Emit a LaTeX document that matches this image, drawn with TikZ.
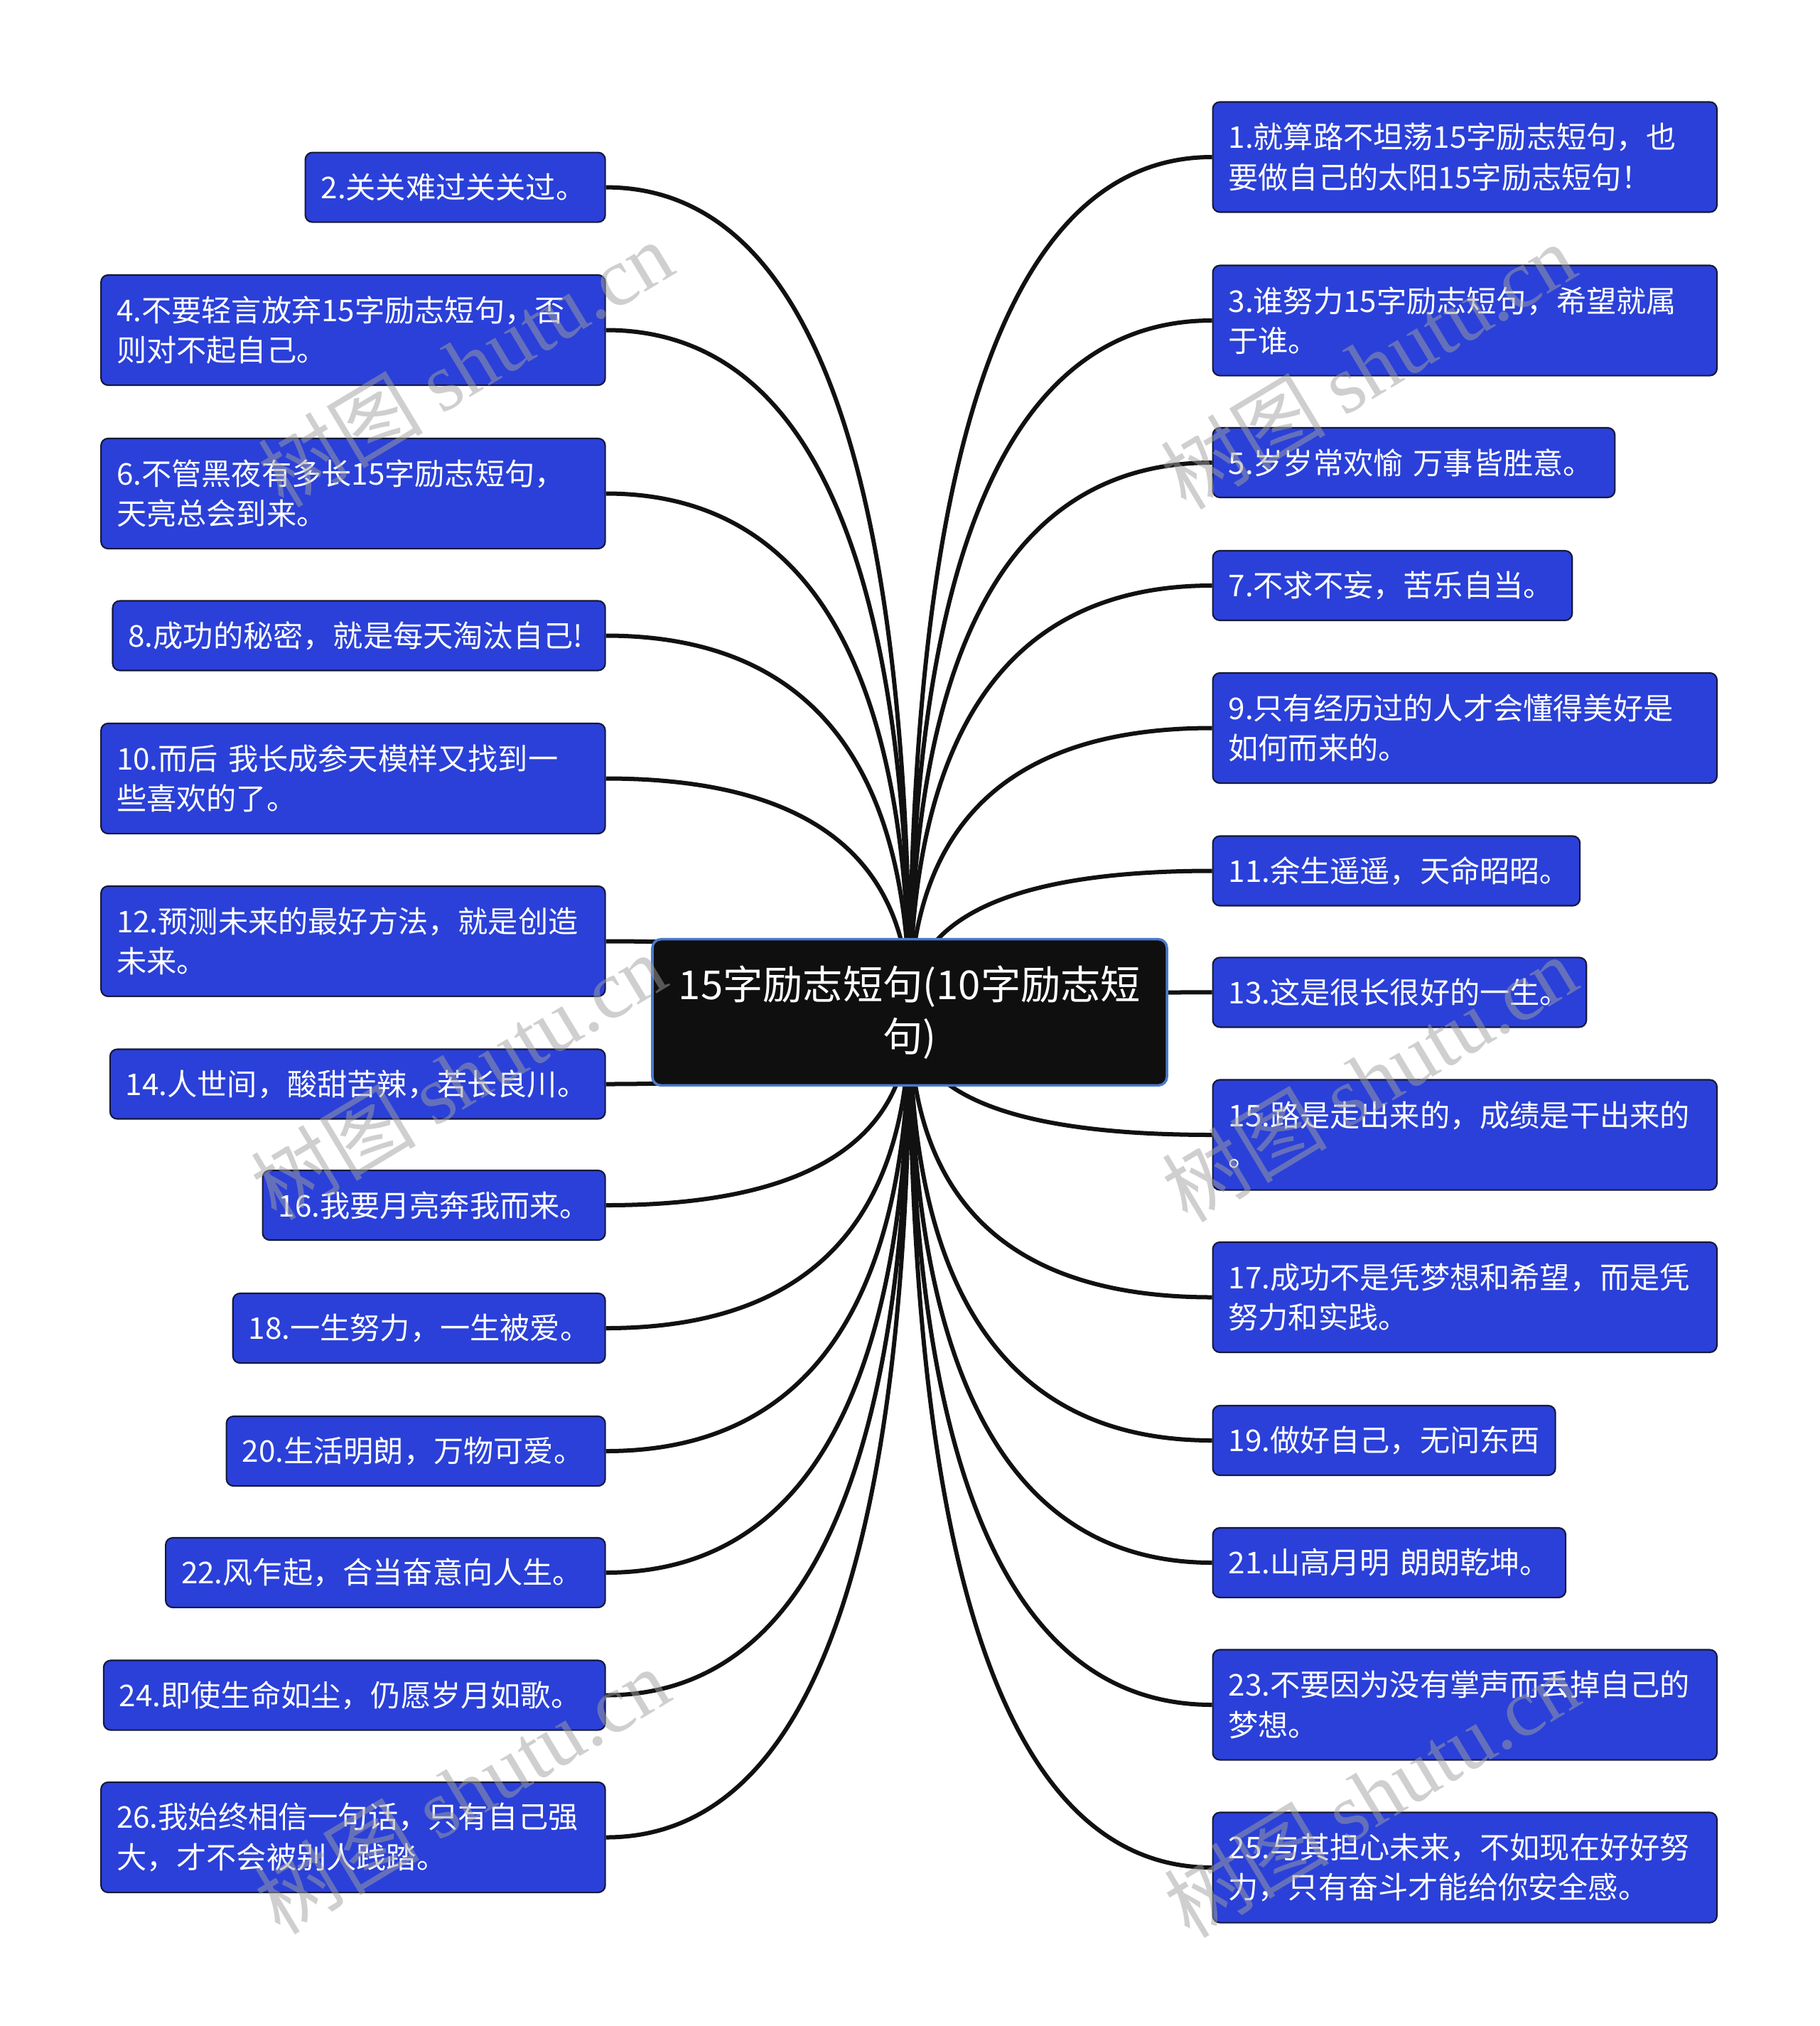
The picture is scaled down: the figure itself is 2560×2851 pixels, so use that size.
\documentclass[tikz,border=0pt]{standalone}
\usepackage{fontspec}
\setmainfont{Noto Sans CJK SC}
\newfontfamily\wmlatin{Liberation Serif}
\usetikzlibrary{backgrounds,calc}
\setlength{\parindent}{0pt}
\definecolor{leafblue}{HTML}{2A40D8}
\definecolor{leafborder}{HTML}{15183A}
\definecolor{rootfill}{HTML}{0F0F0F}
\definecolor{rootborder}{HTML}{4A7ACC}
\definecolor{linecol}{HTML}{111111}
\definecolor{wmgray}{HTML}{A0A0A0}
\newcommand\leaffont{\fontsize{12pt}{16pt}\selectfont}
\newcommand\rootfont{\fontsize{16pt}{20.7pt}\selectfont}
\tikzset{
  leaf/.style={draw=leafborder, line width=0.6pt, fill=leafblue, rounded corners=0.1cm,
    text=white, font=\leaffont, inner xsep=0.22cm, inner ysep=0pt, align=left},
  one/.style={minimum height=0.98cm},
  two/.style={minimum height=1.55cm},
  rootbox/.style={draw=rootborder, line width=1pt, fill=rootfill, rounded corners=0.12cm,
    text=white, font=\rootfont, align=center, inner sep=0pt,
    minimum width=7.236cm, minimum height=2.055cm},
  conn/.style={draw=linecol, line width=0.06cm},
  wm/.style={text=wmgray, text opacity=0.5, font=\fontsize{33pt}{33pt}\selectfont, rotate=31, inner sep=0pt}
}
\begin{document}
\begin{tikzpicture}[x=0.01cm, y=-0.01cm]
\useasboundingbox (0,0) rectangle (2560,2851);
\node[rootbox] (root) at (1280,1424.5) {15字励志短句(10字励志短\\句)};
% right column
\node[leaf, two, anchor=west, text width=6.65cm] (r1) at (1705.5,221) {1.就算路不坦荡15字励志短句，也\\要做自己的太阳15字励志短句！};
\node[leaf, two, anchor=west, text width=6.65cm] (r3) at (1705.5,451) {3.谁努力15字励志短句，希望就属\\于谁。};
\node[leaf, one, anchor=west, text width=5.214cm] (r5) at (1705.5,651) {5.岁岁常欢愉~万事皆胜意。};
\node[leaf, one, anchor=west, text width=4.614cm] (r7) at (1705.5,824) {7.不求不妄，苦乐自当。};
\node[leaf, two, anchor=west, text width=6.65cm] (r9) at (1705.5,1024.5) {9.只有经历过的人才会懂得美好是\\如何而来的。};
\node[leaf, one, anchor=west, text width=4.723cm] (r11) at (1705.5,1225.5) {11.余生遥遥，天命昭昭。};
\node[leaf, one, anchor=west, text width=4.814cm] (r13) at (1705.5,1396.4) {13.这是很长很好的一生。};
\node[leaf, two, anchor=west, text width=6.65cm] (r15) at (1705.5,1597) {15.路是走出来的，成绩是干出来的\\。};
\node[leaf, two, anchor=west, text width=6.65cm] (r17) at (1705.5,1825.5) {17.成功不是凭梦想和希望，而是凭\\努力和实践。};
\node[leaf, one, anchor=west, text width=4.378cm] (r19) at (1705.5,2027) {19.做好自己，无问东西};
\node[leaf, one, anchor=west, text width=4.523cm] (r21) at (1705.5,2199) {21.山高月明~朗朗乾坤。};
\node[leaf, two, anchor=west, text width=6.65cm] (r23) at (1705.5,2399) {23.不要因为没有掌声而丢掉自己的\\梦想。};
\node[leaf, two, anchor=west, text width=6.65cm] (r25) at (1705.5,2628) {25.与其担心未来，不如现在好好努\\力，只有奋斗才能给你安全感。};
% left column
\node[leaf, one, anchor=east, text width=3.778cm] (l2) at (852.7,263.6) {2.关关难过关关过。};
\node[leaf, two, anchor=east, text width=6.651cm] (l4) at (852.7,464.5) {4.不要轻言放弃15字励志短句，否\\则对不起自己。};
\node[leaf, two, anchor=east, text width=6.651cm] (l6) at (852.7,694.5) {6.不管黑夜有多长15字励志短句，\\天亮总会到来。};
\node[leaf, one, anchor=east, text width=6.487cm] (l8) at (852.7,894.5) {8.成功的秘密，就是每天淘汰自己!};
\node[leaf, two, anchor=east, text width=6.651cm] (l10) at (852.7,1095.5) {10.而后~我长成参天模样又找到一\\些喜欢的了。};
\node[leaf, two, anchor=east, text width=6.651cm] (l12) at (852.7,1324.5) {12.预测未来的最好方法，就是创造\\未来。};
\node[leaf, one, anchor=east, text width=6.523cm] (l14) at (852.7,1525.5) {14.人世间，酸甜苦辣，若长良川。};
\node[leaf, one, anchor=east, text width=4.378cm] (l16) at (852.7,1696) {16.我要月亮奔我而来。};
\node[leaf, one, anchor=east, text width=4.796cm] (l18) at (852.7,1869) {18.一生努力，一生被爱。};
\node[leaf, one, anchor=east, text width=4.887cm] (l20) at (852.7,2042) {20.生活明朗，万物可爱。};
\node[leaf, one, anchor=east, text width=5.742cm] (l22) at (852.7,2213) {22.风乍起，合当奋意向人生。};
\node[leaf, one, anchor=east, text width=6.614cm] (l24) at (852.7,2385.5) {24.即使生命如尘，仍愿岁月如歌。};
\node[leaf, two, anchor=east, text width=6.651cm] (l26) at (852.7,2585.5) {26.我始终相信一句话，只有自己强\\大，才不会被别人践踏。};
% connectors
\begin{scope}[on background layer]
\fill[white] (0,0) rectangle (2560,2851);
\foreach \n in {r1,r3,r5,r7,r9,r11,r13,r15,r17,r19,r21,r23,r25}{
  \draw[conn] (root.center) .. controls ($(root.center)!0.6667!(root.center |- \n.west)$) and ($(\n.west)!0.6667!(root.center |- \n.west)$) .. (\n.west);
}
\foreach \n in {l2,l4,l6,l8,l10,l12,l14,l16,l18,l20,l22,l24,l26}{
  \draw[conn] (root.center) .. controls ($(root.center)!0.6667!(root.center |- \n.east)$) and ($(\n.east)!0.6667!(root.center |- \n.east)$) .. (\n.east);
}
\end{scope}
% watermarks
\node[wm] (w1) at (655,512) {树图 {\wmlatin shutu.cn}};
\node[wm] (w2) at (1925,515) {树图 {\wmlatin shutu.cn}};
\node[wm] (w3) at (645,1515) {树图 {\wmlatin shutu.cn}};
\node[wm] (w4) at (1927,1518) {树图 {\wmlatin shutu.cn}};
\node[wm] (w5) at (650,2520) {树图 {\wmlatin shutu.cn}};
\node[wm] (w6) at (1930,2525) {树图 {\wmlatin shutu.cn}};
\end{tikzpicture}
\end{document}
